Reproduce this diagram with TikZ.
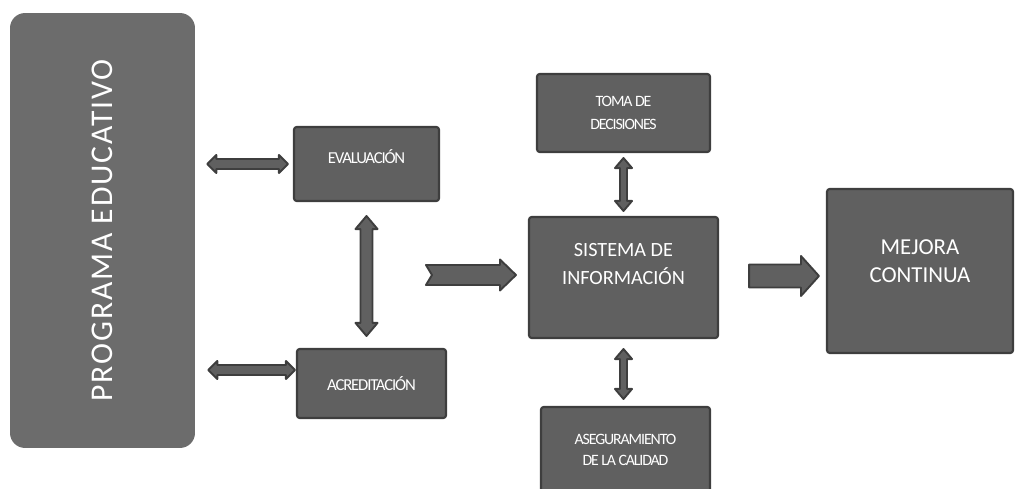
\documentclass[tikz,border=0pt]{standalone}
\usepackage{fontspec}
\setmainfont{Carlito}
\newfontfamily\smallcaption[LetterSpace=-7]{Carlito}
\newfontfamily\widecaption[LetterSpace=6]{Carlito}
\usepackage{tikz}
\usetikzlibrary{calc}
\definecolor{boxgrey}{RGB}{96,96,96}
\definecolor{progrey}{RGB}{108,108,108}
\definecolor{edgegrey}{RGB}{62,62,62}

\tikzset{blockarrow/.style={fill=boxgrey, draw=edgegrey, line width=1.1pt, line join=round}}

% block arrow with two heads: from, to, head half width, shaft half width, head length
\newcommand{\dblarrow}[5]{%
  \draw[blockarrow] (#1) -- ($(#1)!#5!(#2)!#3!90:(#2)$) -- ($(#1)!#5!(#2)!#4!90:(#2)$)
    -- ($(#2)!#5!(#1)!#4!270:(#1)$) -- ($(#2)!#5!(#1)!#3!270:(#1)$) -- (#2)
    -- ($(#2)!#5!(#1)!#3!90:(#1)$) -- ($(#2)!#5!(#1)!#4!90:(#1)$)
    -- ($(#1)!#5!(#2)!#4!270:(#2)$) -- ($(#1)!#5!(#2)!#3!270:(#2)$) -- cycle;}
% block arrow with one head, #6 = depth of the notch in the tail
\newcommand{\onearrow}[6]{%
  \draw[blockarrow] ($(#1)!#6!(#2)$) -- ($(#1)!#4!90:(#2)$)
    -- ($(#2)!#5!(#1)!#4!270:(#1)$) -- ($(#2)!#5!(#1)!#3!270:(#1)$) -- (#2)
    -- ($(#2)!#5!(#1)!#3!90:(#1)$) -- ($(#2)!#5!(#1)!#4!90:(#1)$)
    -- ($(#1)!#4!270:(#2)$) -- cycle;}

\begin{document}
\begin{tikzpicture}[x=0.02cm, y=-0.02cm]
      \useasboundingbox (0,0) rectangle (1015,489);
      \node[fill=progrey, rounded corners=0.3cm, rotate=90, minimum width=8.7cm, minimum height=3.7cm,
            text=white, font={\widecaption\fontsize{18}{21}\selectfont}] (prog) at (102.5,230.5) {PROGRAMA EDUCATIVO};
      \begin{scope}[every node/.style={rectangle, fill=boxgrey, draw=edgegrey, line width=1.2pt,
                    rounded corners=1.5pt, text=white, align=center}]
        \node[minimum width=2.9cm, minimum height=1.48cm, text depth=0.28cm,
              font={\smallcaption\fontsize{9.5}{13}\selectfont}] (eval) at (366.5,164) {EVALUACIÓN};
        \node[minimum width=2.98cm, minimum height=1.38cm,
              font={\smallcaption\fontsize{9.5}{13}\selectfont}] (acred) at (371.5,383.5) {ACREDITACIÓN};
        \node[minimum width=3.78cm, minimum height=2.42cm, text depth=0.54cm,
              font={\fontsize{11.5}{16}\selectfont}] (sis) at (623.5,277.5) {SISTEMA DE\\INFORMACIÓN};
        \node[minimum width=3.46cm, minimum height=1.56cm,
              font={\smallcaption\fontsize{9}{13}\selectfont}] (toma) at (623.5,113) {TOMA DE\\DECISIONES};
        \node[minimum width=3.38cm, minimum height=1.8cm, text depth=0.1cm,
              font={\smallcaption\fontsize{9}{12}\selectfont}] (aseg) at (625.5,452) {ASEGURAMIENTO\\DE LA CALIDAD};
        \node[minimum width=3.72cm, minimum height=3.28cm, text depth=0.4cm,
              font={\fontsize{13}{16}\selectfont}] (mejora) at (920,271) {MEJORA\\CONTINUA};
      \end{scope}
      % arrow ends
      \coordinate (ev1) at ($(prog.south |- eval.west)+(0.24cm,0)$);
      \coordinate (ev2) at ($(eval.west)+(-0.1cm,0)$);
      \coordinate (ac1) at ($(prog.south |- acred.west)+(0.26cm,0.27cm)$);
      \coordinate (ac2) at ($(acred.west)+(-0.02cm,0.27cm)$);
      \coordinate (ea1) at ($(eval.south)+(0,-0.28cm)$);
      \coordinate (ea2) at ($(eval.south |- acred.north)+(0,0.24cm)$);
      \coordinate (ts1) at ($(toma.south)+(0,-0.1cm)$);
      \coordinate (ts2) at ($(toma.south |- sis.north)+(0,0.1cm)$);
      \coordinate (sa1) at ($(sis.south)+(0,-0.2cm)$);
      \coordinate (sa2) at ($(sis.south |- aseg.north)+(0,0.14cm)$);
      \coordinate (in1) at ($(sis.west)+(-2.04cm,0.05cm)$);
      \coordinate (in2) at ($(sis.west)+(-0.24cm,0.05cm)$);
      \coordinate (me1) at ($(sis.east)+(0.6cm,0.03cm)$);
      \coordinate (me2) at ($(sis.east -| mejora.west)+(-0.14cm,0.03cm)$);
      \dblarrow{ev1}{ev2}{0.18cm}{0.1cm}{0.18cm}
      \dblarrow{ac1}{ac2}{0.18cm}{0.1cm}{0.18cm}
      \dblarrow{ea1}{ea2}{0.22cm}{0.12cm}{0.26cm}
      \dblarrow{ts1}{ts2}{0.17cm}{0.07cm}{0.2cm}
      \dblarrow{sa1}{sa2}{0.17cm}{0.07cm}{0.2cm}
      \onearrow{in1}{in2}{0.31cm}{0.2cm}{0.32cm}{0.12cm}
      \onearrow{me1}{me2}{0.4cm}{0.23cm}{0.36cm}{0cm}
    \end{tikzpicture}
\end{document}
